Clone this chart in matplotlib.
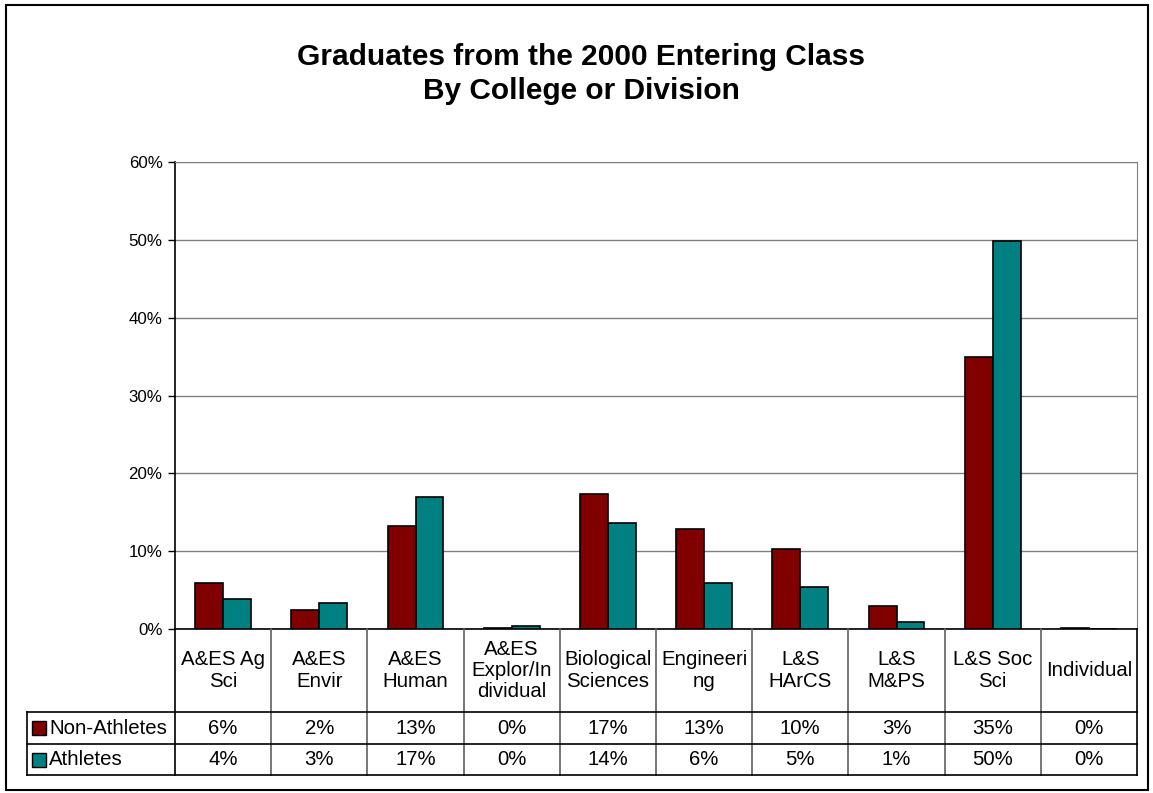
#!/usr/bin/env python3

import numpy as np
import matplotlib
matplotlib.use('Agg')
import matplotlib.pyplot as plt
from matplotlib.patches import Rectangle
plt.rcParams['font.family'] = ['Liberation Sans', 'DejaVu Sans']

categories = ['A&ES Ag\nSci', 'A&ES\nEnvir', 'A&ES\nHuman', 'A&ES\nExplor/In\ndividual',
              'Biological\nSciences', 'Engineeri\nng', 'L&S\nHArCS', 'L&S\nM&PS',
              'L&S Soc\nSci', 'Individual']
non_athletes = [5.9, 2.4, 13.2, 0.1, 17.3, 12.9, 10.3, 3.0, 35.0, 0.1]
athletes = [3.8, 3.4, 16.9, 0.4, 13.6, 5.9, 5.4, 0.9, 49.8, 0.0]
series_names = ['Non-Athletes', 'Athletes']
series_colors = ['#800000', '#008080']
yticks = np.arange(0, 61, 10)
title = 'Graduates from the 2000 Entering Class\nBy College or Division'

W, H = 1153, 793


def fig_rect(left, top, right, bottom):
    # pixel box -> figure fraction
    return [left / W, 1 - bottom / H, (right - left) / W, (bottom - top) / H]


def main():
    fig = plt.figure(figsize=(W / 100, H / 100), dpi=100)
    fig.patches.append(Rectangle((6 / W, 1 - 790 / H), 1142 / W, 785 / H,
                                 transform=fig.transFigure, fill=False,
                                 edgecolor='black', linewidth=1.5))
    fig.text(581 / W, 1 - 74 / H, title, ha='center', va='center',
             fontsize=21.5, fontweight='bold', linespacing=1.25)

    n = len(categories)
    x = np.arange(n)
    px_unit = (1137 - 175) / n

    ax = fig.add_axes(fig_rect(175, 162, 1137, 629))
    w = 0.29
    ax.bar(x - w / 2, non_athletes, w, color=series_colors[0], edgecolor='black',
           linewidth=1.2, zorder=3)
    ax.bar(x + w / 2, athletes, w, color=series_colors[1], edgecolor='black',
           linewidth=1.2, zorder=3)
    ax.set_xlim(-0.5, n - 0.5)
    ax.set_ylim(0, 60)
    ax.set_yticks(yticks)
    ax.set_yticklabels([f'{t}%' for t in yticks], fontsize=12.2)
    ax.set_xticks([])
    ax.tick_params(axis='y', direction='out', length=5, width=1, pad=4)
    ax.yaxis.grid(True, color='#808080', linewidth=1, zorder=0)
    for side in ['top', 'right']:
        ax.spines[side].set_color('#808080')
    for side in ['left', 'bottom']:
        ax.spines[side].set_color('black')
        ax.spines[side].set_linewidth(1.2)

    # data table under the plot
    left_px = 27
    tax = fig.add_axes(fig_rect(left_px, 629, 1137, 775))
    xmin = -0.5 - (175 - left_px) / px_unit
    tax.set_xlim(xmin, n - 0.5)
    tax.set_ylim(146, 0)
    tax.axis('off')
    hdr, r1, r2 = 83, 115, 146
    fs = 14.7
    for i in range(n + 1):
        tax.plot([i - 0.5, i - 0.5], [0, r2], color='#606060' if 0 < i < n else 'black',
                 lw=1.2, clip_on=False)
    for yy in [hdr, r1, r2]:
        tax.plot([xmin, n - 0.5], [yy, yy], color='black', lw=1.2, clip_on=False)
    tax.plot([xmin, xmin], [hdr, r2], color='black', lw=1.2, clip_on=False)

    for i, cat in enumerate(categories):
        tax.text(i, hdr / 2, cat, ha='center', va='center', fontsize=fs,
                 linespacing=1.15)
        tax.text(i, (hdr + r1) / 2, f'{non_athletes[i]:.0f}%', ha='center',
                 va='center', fontsize=fs)
        tax.text(i, (r1 + r2) / 2, f'{athletes[i]:.0f}%', ha='center',
                 va='center', fontsize=fs)

    for name, color, (top, bot) in zip(series_names, series_colors, [(hdr, r1), (r1, r2)]):
        ymid = (top + bot) / 2
        tax.plot([xmin + 12 / px_unit], [ymid], marker='s', ms=10, color=color,
                 markeredgecolor='black', markeredgewidth=1, clip_on=False)
        tax.text(xmin + 22 / px_unit, ymid, name, ha='left', va='center', fontsize=fs)

    fig.savefig('out.png', dpi=100)


if __name__ == '__main__':
    main()
